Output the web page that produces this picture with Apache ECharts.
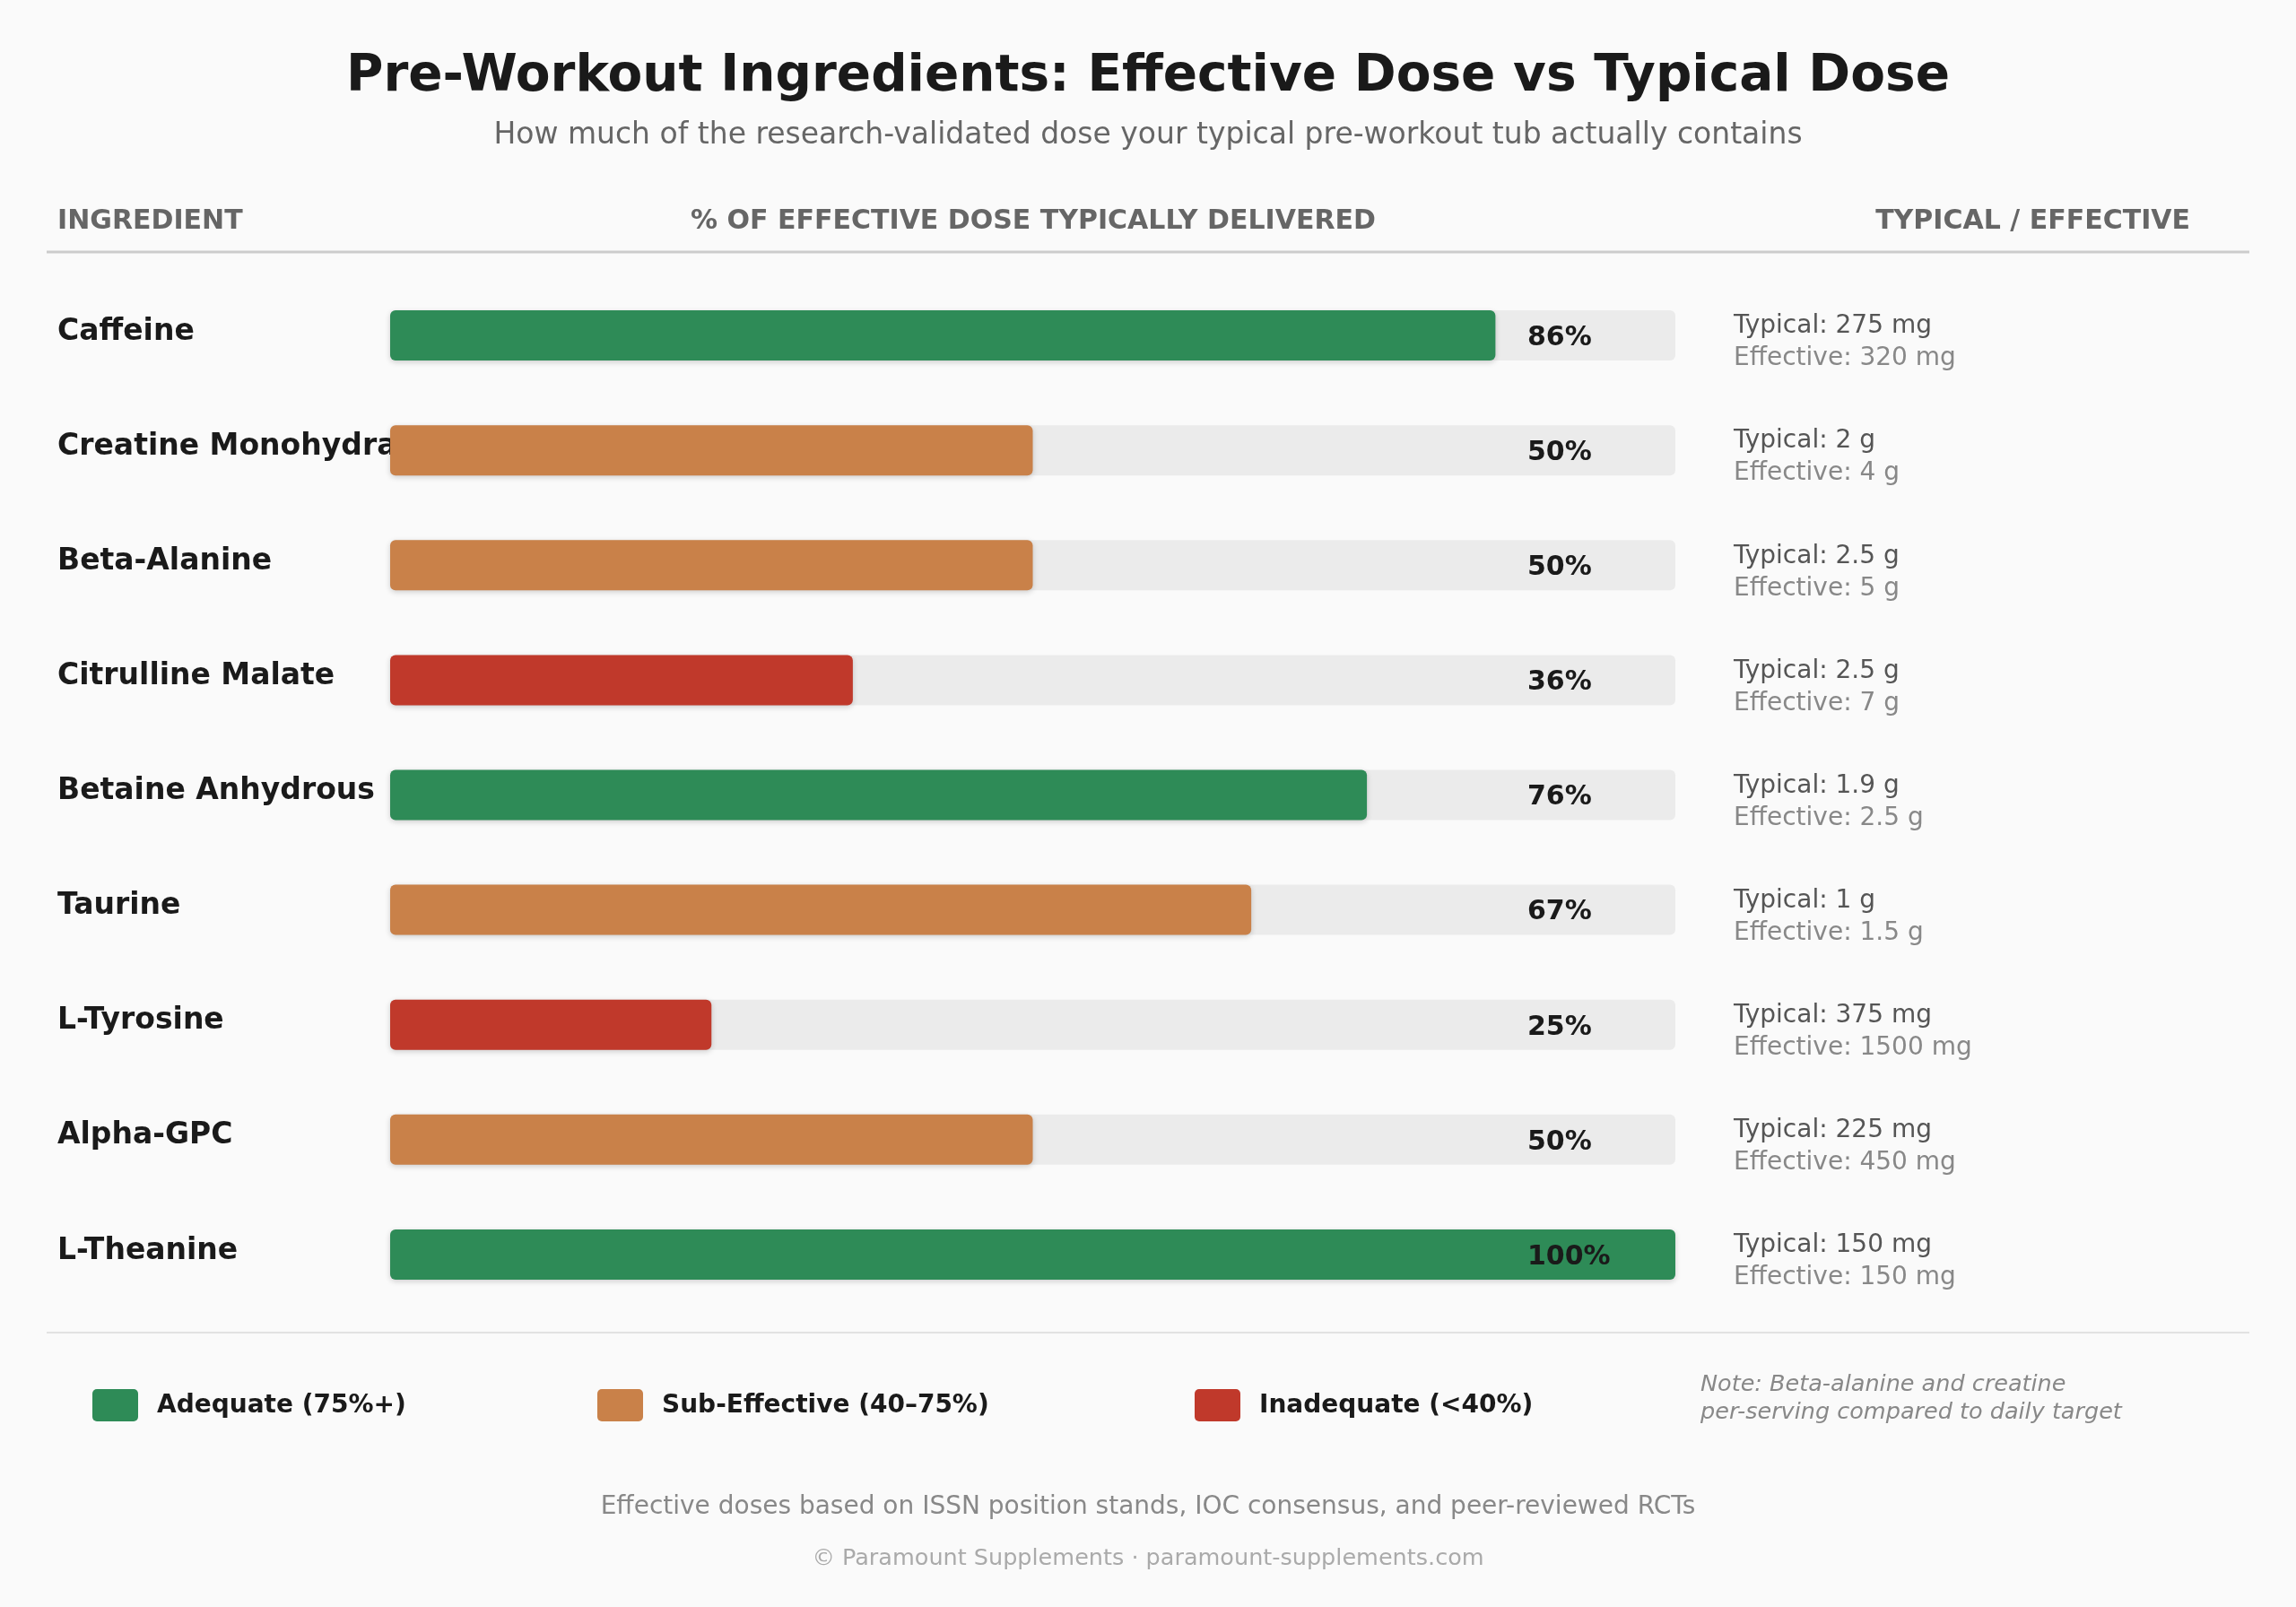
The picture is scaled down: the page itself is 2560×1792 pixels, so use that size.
<!DOCTYPE html>
<html>
<head>
<meta charset="utf-8">
<script src="https://cdn.jsdelivr.net/npm/echarts@6/dist/echarts.min.js"></script>
<style>
    html, body { margin: 0; padding: 0; background: #fafafa; }
    #chart { width: 2560px; height: 1792px; }
</style>
</head>
<body>
<div id="chart"></div>
<script>
(function(){

    // data
    let ingredients = ['Caffeine', 'Creatine Monohydrate', 'Beta-Alanine', 'Citrulline Malate',
        'Betaine Anhydrous', 'Taurine', 'L-Tyrosine', 'Alpha-GPC', 'L-Theanine'];
    let pctDelivered = [86, 50, 50, 36, 76, 67, 25, 50, 100];
    let typicalDose = ['275 mg', '2 g', '2.5 g', '2.5 g', '1.9 g', '1 g', '375 mg', '225 mg', '150 mg'];
    let effectiveDose = ['320 mg', '4 g', '5 g', '7 g', '2.5 g', '1.5 g', '1500 mg', '450 mg', '150 mg'];
    let legendLabels = ['Adequate (75%+)', 'Sub-Effective (40\u201375%)', 'Inadequate (<40%)'];

    const FONT = '"DejaVu Sans", "Noto Sans", sans-serif';
    const GREEN = '#2e8b57', ORANGE = '#c98149', RED = '#c0392b';

    let _colorFor = function(v){
        if (v >= 75) return GREEN;
        if (v >= 40) return ORANGE;
        return RED;
    };

    let _text = function(x, y, text, font, fill, align){
        return {
            type: 'text',
            x: x, y: y,
            style: {
                text: text,
                font: font,
                fill: fill,
                align: align || 'left',
                verticalAlign: 'middle'
            }
        };
    };

    let graphics = [
        _text(1280, 86, 'Pre-Workout Ingredients: Effective Dose vs Typical Dose', 'bold 56.5px ' + FONT, '#1a1a1a', 'center'),
        _text(1280, 151, 'How much of the research-validated dose your typical pre-workout tub actually contains', '33px ' + FONT, '#666666', 'center'),
        _text(64, 247, 'INGREDIENT', 'bold 30px ' + FONT, '#666666', 'left'),
        _text(1152, 247, '% OF EFFECTIVE DOSE TYPICALLY DELIVERED', 'bold 30px ' + FONT, '#666666', 'center'),
        _text(2442, 247, 'TYPICAL / EFFECTIVE', 'bold 30px ' + FONT, '#666666', 'right'),
        {
            type: 'line',
            shape: { x1: 52, y1: 281, x2: 2508, y2: 281 },
            style: { stroke: '#cccccc', lineWidth: 3 }
        },
        {
            type: 'line',
            shape: { x1: 52, y1: 1486, x2: 2508, y2: 1486 },
            style: { stroke: '#e2e2e2', lineWidth: 2 }
        },
        _text(1896, 1544, 'Note: Beta-alanine and creatine', 'italic 25.5px ' + FONT, '#888888', 'left'),
        _text(1896, 1575, 'per-serving compared to daily target', 'italic 25.5px ' + FONT, '#888888', 'left'),
        _text(1280, 1681, 'Effective doses based on ISSN position stands, IOC consensus, and peer-reviewed RCTs', '28px ' + FONT, '#888888', 'center'),
        _text(1280, 1738, '\u00a9 Paramount Supplements \u00b7 paramount-supplements.com', '25.5px ' + FONT, '#aaaaaa', 'center')
    ];

    // legend swatches
    let legendX = [103, 666, 1332];
    let legendColors = [GREEN, ORANGE, RED];
    legendLabels.forEach(function(lbl, i){
        graphics.push({
            type: 'rect',
            shape: { x: legendX[i], y: 1549, width: 51, height: 36, r: 5 },
            style: { fill: legendColors[i] }
        });
        graphics.push(_text(legendX[i] + 72, 1568, lbl, 'bold 28px ' + FONT, '#1a1a1a', 'left'));
    });

    let option = {
        backgroundColor: '#fafafa',
        animation: false,
        grid: {
            left: 435,
            right: 692,
            top: 310,
            bottom: 329,
            containLabel: false
        },
        xAxis: {
            type: 'value',
            min: 0,
            max: 100,
            show: false
        },
        yAxis: [
            {
                type: 'category',
                inverse: true,
                data: ingredients,
                axisLine: { show: false },
                axisTick: { show: false },
                axisLabel: {
                    align: 'left',
                    verticalAlign: 'bottom',
                    lineHeight: 8,
                    margin: 371,
                    fontFamily: FONT,
                    fontWeight: 'bold',
                    fontSize: 33,
                    color: '#1a1a1a'
                }
            },
            {
                type: 'category',
                inverse: true,
                position: 'right',
                data: ingredients,
                axisLine: { show: false },
                axisTick: { show: false },
                axisLabel: {
                    align: 'left',
                    margin: 65,
                    padding: [16, 0, 0, 0],
                    formatter: function(value, idx){
                        return '{t|Typical: ' + typicalDose[idx] + '}\n{e|Effective: ' + effectiveDose[idx] + '}';
                    },
                    rich: {
                        t: { fontFamily: FONT, fontSize: 28, color: '#555555', lineHeight: 36 },
                        e: { fontFamily: FONT, fontSize: 28, color: '#888888', lineHeight: 36 }
                    }
                }
            }
        ],
        series: [
            {
                type: 'bar',
                yAxisIndex: 0,
                barWidth: 56,
                data: pctDelivered.map(function(v){
                    return { value: v, itemStyle: { color: _colorFor(v) } };
                }),
                showBackground: true,
                backgroundStyle: {
                    color: '#ebebeb',
                    borderRadius: 6
                },
                itemStyle: {
                    borderRadius: 6,
                    shadowBlur: 6,
                    shadowOffsetY: 2,
                    shadowColor: 'rgba(0,0,0,0.18)'
                },
                label: {
                    show: true,
                    position: [1268, 31],
                    align: 'left',
                    verticalAlign: 'middle',
                    formatter: '{c}%',
                    fontFamily: FONT,
                    fontWeight: 'bold',
                    fontSize: 30,
                    color: '#1a1a1a'
                }
            }
        ],
        graphic: graphics
    };

    let chart = echarts.init(document.getElementById('chart'));
    chart.setOption(option);

    window.addEventListener('resize', function(){
        chart.resize();
    });
})();
</script>
</body>
</html>
